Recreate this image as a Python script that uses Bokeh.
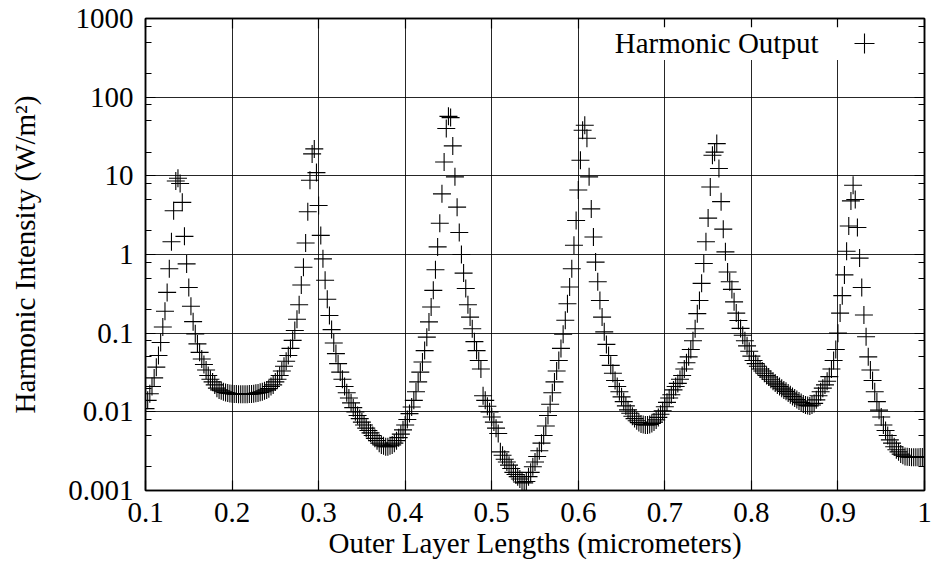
from bokeh.plotting import figure
from bokeh.models import (Range1d, FixedTicker, CustomJSTickFormatter, LogAxis, LinearAxis,
                          Legend, LegendItem, Label, BoxAnnotation, ColumnDataSource,
                          CustomLabelingPolicy)
from bokeh.embed import file_html
from bokeh.resources import INLINE

# ---------------- data ----------------
x_start = 0.1
x_step = 0.0025
intensity = [
    0.011, 0.014, 0.017, 0.021, 0.027, 0.037, 0.052, 0.076, 0.12, 0.19,
    0.33, 0.66, 1.45, 3.6, 8.6, 9.3, 8.0, 4.6, 1.7, 0.76,
    0.38, 0.22, 0.14, 0.098, 0.073, 0.057, 0.047, 0.040, 0.034, 0.029,
    0.026, 0.024, 0.022, 0.020, 0.019, 0.0185, 0.018, 0.0176, 0.0173, 0.0171,
    0.0170, 0.0169, 0.0168, 0.0167, 0.0167, 0.0167, 0.0167, 0.0167, 0.0168, 0.0169,
    0.0170, 0.0172, 0.0174, 0.0177, 0.0180, 0.0185, 0.019, 0.0197, 0.021, 0.022,
    0.024, 0.026, 0.029, 0.033, 0.038, 0.044, 0.052, 0.064, 0.081, 0.108,
    0.15, 0.23, 0.41, 0.69, 1.4, 3.5, 8.8, 19, 22, 11,
    4.2, 1.75, 0.88, 0.47, 0.27, 0.168, 0.111, 0.075, 0.055, 0.041,
    0.032, 0.026, 0.021, 0.0175, 0.0150, 0.0130, 0.0113, 0.0100, 0.0090, 0.0082,
    0.0074, 0.0068, 0.0062, 0.0058, 0.0054, 0.0050, 0.0046, 0.0043, 0.0040, 0.0038,
    0.0037, 0.0036, 0.0036, 0.0037, 0.0038, 0.0040, 0.0043, 0.0047, 0.0052, 0.0059,
    0.0068, 0.0080, 0.0095, 0.0115, 0.014, 0.018, 0.024, 0.032, 0.043, 0.060,
    0.089, 0.139, 0.215, 0.35, 0.64, 1.25, 2.5, 5.9, 15, 40,
    57, 55, 24, 9.7, 4.0, 1.9, 1.0, 0.58, 0.37, 0.23,
    0.16, 0.114, 0.078, 0.060, 0.045, 0.035, 0.016, 0.0140, 0.0118, 0.0100,
    0.0086, 0.0074, 0.0062, 0.0053, 0.0031, 0.0028, 0.0025, 0.0023, 0.0021, 0.0019,
    0.0017, 0.0016, 0.0015, 0.0014, 0.00128, 0.00125, 0.0013, 0.0015, 0.0017, 0.0020,
    0.0023, 0.0027, 0.0032, 0.0040, 0.0050, 0.0066, 0.0090, 0.0125, 0.0175, 0.024,
    0.033, 0.045, 0.064, 0.097, 0.146, 0.237, 0.386, 0.66, 1.31, 2.7,
    6.6, 15.8, 38, 44, 30, 9.7, 3.8, 1.67, 0.80, 0.45,
    0.26, 0.16, 0.104, 0.072, 0.052, 0.039, 0.031, 0.025, 0.021, 0.018,
    0.0155, 0.0135, 0.0119, 0.0106, 0.0096, 0.0088, 0.0082, 0.0077, 0.0073, 0.0070,
    0.0069, 0.0068, 0.0068, 0.0069, 0.0071, 0.0074, 0.0079, 0.0085, 0.0093, 0.0103,
    0.0116, 0.0132, 0.0150, 0.0165, 0.019, 0.021, 0.023, 0.026, 0.029, 0.035,
    0.042, 0.050, 0.062, 0.080, 0.114, 0.177, 0.26, 0.43, 0.77, 1.45,
    2.9, 7.2, 18.3, 20, 25.7, 12.4, 4.7, 2.1, 1.08, 0.60,
    0.45, 0.36, 0.25, 0.18, 0.145, 0.115, 0.094, 0.080, 0.069, 0.059,
    0.051, 0.045, 0.041, 0.038, 0.035, 0.033, 0.031, 0.029, 0.0277, 0.026,
    0.0245, 0.0232, 0.022, 0.021, 0.020, 0.019, 0.0182, 0.0173, 0.0165, 0.0157,
    0.0150, 0.0143, 0.0137, 0.0131, 0.0126, 0.0122, 0.0120, 0.0119, 0.0122, 0.0128,
    0.0142, 0.0160, 0.0180, 0.0200, 0.0220, 0.0245, 0.028, 0.035, 0.045, 0.062,
    0.10, 0.18, 0.30, 0.55, 1.1, 2.3, 4.8, 7.6, 5.0, 2.2,
    0.9, 0.38, 0.17, 0.090, 0.050, 0.034, 0.025, 0.018, 0.0135, 0.0105,
    0.0086, 0.0068, 0.0058, 0.0050, 0.0044, 0.0040, 0.0036, 0.0033, 0.0031, 0.0029,
    0.0028, 0.0027, 0.00268, 0.00266, 0.00265, 0.00265, 0.00265, 0.00265, 0.00266, 0.00267,
    0.00268,
]
layer_length = [round(x_start + x_step * i, 4) for i in range(len(intensity))]

x_ticks = [0.1, 0.2, 0.3, 0.4, 0.5, 0.6, 0.7, 0.8, 0.9, 1.0]
y_ticks = [0.001, 0.01, 0.1, 1, 10, 100, 1000]
y_minor_ticks = [m * 10.0 ** e for e in range(-3, 3) for m in (2, 5, 8)]
series_label = "Harmonic Output"
x_title = "Outer Layer Lengths (micrometers)"
y_title = "Harmonic Intensity (W/m\u00b2)"

FONT = "Liberation Serif"
TICK_FS = "29px"
TEXT_FS = "29px"

# ---------------- figure ----------------
p = figure(width=938, height=574, y_axis_type="log",
           x_range=Range1d(0.1, 1.0), y_range=Range1d(0.001, 1000),
           output_backend="svg", toolbar_location=None,
           min_border_left=145, min_border_right=14,
           min_border_top=18, min_border_bottom=84)
p.background_fill_color = "white"
p.border_fill_color = "white"
p.outline_line_color = "black"
p.outline_line_width = 1.5

xt = FixedTicker(ticks=x_ticks, minor_ticks=[])
yt = FixedTicker(ticks=y_ticks, minor_ticks=y_minor_ticks)
xf = CustomJSTickFormatter(code="return (Math.round(tick*10)/10).toString();")
yf = CustomJSTickFormatter(code="return tick.toString();")
no_labels = CustomLabelingPolicy(code="for (const i of indices) { indices.unset(i) }\nreturn indices")


def style_axis(ax, show_labels=True):
    ax.major_tick_in = 10
    ax.major_tick_out = 0
    ax.minor_tick_in = 6
    ax.minor_tick_out = 0
    ax.axis_line_color = "black"
    ax.axis_line_width = 1.5
    ax.major_tick_line_color = "black"
    ax.major_tick_line_width = 1.2
    ax.minor_tick_line_color = "black"
    ax.minor_tick_line_width = 1.2
    ax.major_label_text_font = FONT
    ax.major_label_text_color = "black"
    if show_labels:
        ax.major_label_text_font_size = TICK_FS
    else:
        ax.major_label_text_font_size = "0px"
        ax.major_label_standoff = 0
        ax.major_label_policy = no_labels


xa = p.xaxis[0]
xa.ticker = xt
xa.formatter = xf
style_axis(xa)
xa.major_label_standoff = 12
xa.axis_label = x_title
xa.axis_label_text_font = FONT
xa.axis_label_text_font_size = TEXT_FS
xa.axis_label_text_font_style = "normal"
xa.axis_label_text_color = "black"
xa.axis_label_standoff = 2

ya = p.yaxis[0]
ya.ticker = yt
ya.formatter = yf
style_axis(ya)
ya.major_label_standoff = 12
ya.axis_label = y_title
ya.axis_label_text_font = FONT
ya.axis_label_text_font_size = TEXT_FS
ya.axis_label_text_font_style = "normal"
ya.axis_label_text_color = "black"
ya.axis_label_standoff = 24

top_axis = LinearAxis(ticker=xt, formatter=xf)
style_axis(top_axis, show_labels=False)
p.add_layout(top_axis, "above")
right_axis = LogAxis(ticker=yt, formatter=yf)
style_axis(right_axis, show_labels=False)
p.add_layout(right_axis, "right")

p.xgrid.ticker = xt
p.ygrid.ticker = yt
p.xgrid.grid_line_color = "black"
p.ygrid.grid_line_color = "black"
p.xgrid.grid_line_width = 1
p.ygrid.grid_line_width = 1
p.xgrid.grid_line_alpha = 0.85
p.ygrid.grid_line_alpha = 0.85

src = ColumnDataSource(data=dict(x=layer_length, y=intensity))
r = p.scatter(x="x", y="y", source=src, marker="cross", size=18,
              line_color="black", line_width=1.1)

# key: white area behind key, text, then marker sample on its right
key_bg = BoxAnnotation(left=0.608, right=0.952, bottom=296, top=776,
                       fill_color="white", fill_alpha=1.0, line_alpha=0)
p.add_layout(key_bg)
key_text = Label(x=0.8775, y=487, text=series_label, text_align="right",
                 text_baseline="middle", text_font=FONT, text_font_size=TEXT_FS,
                 text_color="black")
p.add_layout(key_text)
legend = Legend(items=[LegendItem(label=" ", renderers=[r])], location="top_right",
                glyph_width=50, glyph_height=50, label_standoff=35,
                label_text_font_size="1px", label_width=0, label_height=0,
                padding=0, margin=0, spacing=0,
                background_fill_alpha=0, border_line_alpha=0)
p.add_layout(legend)

open("out.html", "w").write(file_html(p, INLINE))
